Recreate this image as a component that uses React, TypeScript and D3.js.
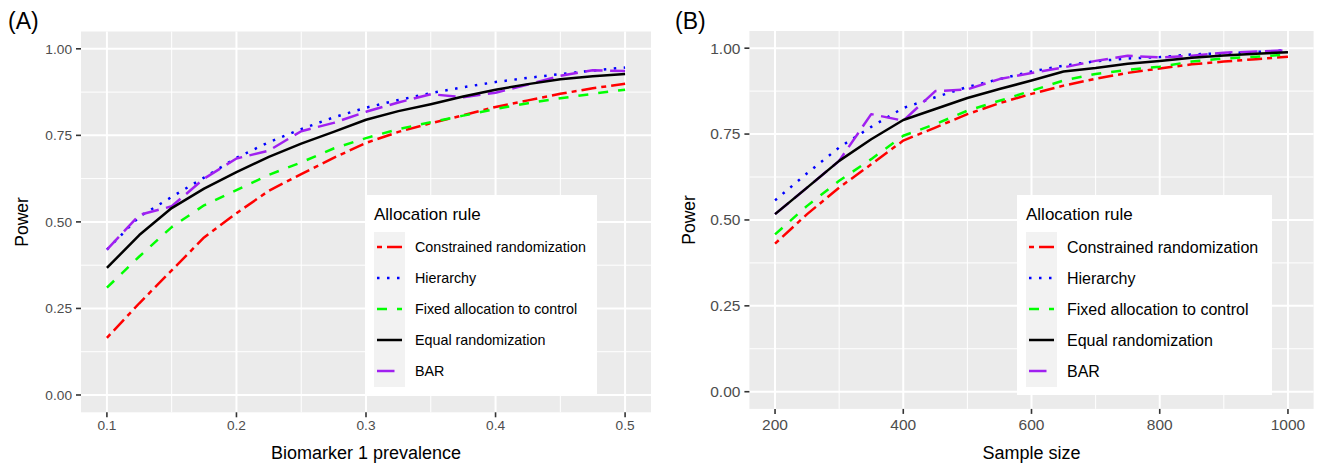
import React from "react";
import * as d3 from "d3";

// allocation rules, in legend order
const rules = [
  "Constrained randomization",
  "Hierarchy",
  "Fixed allocation to control",
  "Equal randomization",
  "BAR",
];
const ruleColors = ["#FF0000", "#0000FF", "#00FF00", "#000000", "#A020F0"];
// R linetypes twodash, dotted, dashed, solid, longdash at lwd ~2.5
const ruleDashes = ["5,5,15,5", "2.5,7.5", "10,10", null, "17.5,7.5"];
// order the lines are drawn in (index into rules)
const drawOrder = [0, 1, 2, 4, 3];

// (A) power by biomarker 1 prevalence
const prevalence = [0.1, 0.125, 0.15, 0.175, 0.2, 0.225, 0.25, 0.275, 0.3, 0.325, 0.35, 0.375, 0.4, 0.425, 0.45, 0.475, 0.5];
const prevConstrained = [0.165, 0.265, 0.36, 0.455, 0.525, 0.59, 0.638, 0.685, 0.728, 0.76, 0.785, 0.808, 0.832, 0.851, 0.87, 0.886, 0.899];
const prevHierarchy = [0.42, 0.515, 0.572, 0.628, 0.685, 0.73, 0.768, 0.802, 0.83, 0.852, 0.872, 0.889, 0.904, 0.916, 0.927, 0.937, 0.946];
const prevFixed = [0.31, 0.4, 0.485, 0.548, 0.592, 0.636, 0.672, 0.712, 0.742, 0.768, 0.788, 0.807, 0.826, 0.843, 0.857, 0.87, 0.882];
const prevEqual = [0.367, 0.462, 0.54, 0.596, 0.644, 0.688, 0.726, 0.76, 0.795, 0.82, 0.84, 0.862, 0.882, 0.898, 0.912, 0.921, 0.927];
const prevBAR = [0.42, 0.52, 0.545, 0.625, 0.683, 0.706, 0.762, 0.786, 0.818, 0.845, 0.869, 0.86, 0.873, 0.897, 0.922, 0.938, 0.936];

// (B) power by sample size
const sampleSize = [200, 250, 300, 350, 400, 450, 500, 550, 600, 650, 700, 750, 800, 850, 900, 950, 1000];
const sizeConstrained = [0.431, 0.517, 0.594, 0.662, 0.731, 0.769, 0.808, 0.84, 0.867, 0.891, 0.911, 0.928, 0.941, 0.953, 0.961, 0.968, 0.975];
const sizeHierarchy = [0.557, 0.636, 0.711, 0.771, 0.826, 0.857, 0.887, 0.91, 0.932, 0.949, 0.962, 0.97, 0.974, 0.982, 0.985, 0.989, 0.994];
const sizeFixed = [0.458, 0.541, 0.614, 0.677, 0.745, 0.779, 0.818, 0.847, 0.876, 0.906, 0.925, 0.937, 0.946, 0.961, 0.97, 0.975, 0.982];
const sizeEqual = [0.517, 0.594, 0.672, 0.735, 0.791, 0.823, 0.855, 0.881, 0.906, 0.932, 0.942, 0.955, 0.963, 0.972, 0.979, 0.984, 0.988];
const sizeBAR = [0.517, 0.594, 0.672, 0.808, 0.789, 0.875, 0.88, 0.91, 0.928, 0.944, 0.963, 0.978, 0.973, 0.978, 0.987, 0.99, 0.994];

const powerTicks = [0, 0.25, 0.5, 0.75, 1];
const powerMinor = [0.125, 0.375, 0.625, 0.875];
const prevTicks = [0.1, 0.2, 0.3, 0.4, 0.5];
const prevMinor = [0.15, 0.25, 0.35, 0.45];
const sizeTicks = [200, 400, 600, 800, 1000];
const sizeMinor = [300, 500, 700, 900];

const FONT = "'Liberation Sans', Arial, Helvetica, sans-serif";

type PanelProps = {
  tag: string;
  tagX: number;
  xTitle: string;
  xs: number[];
  series: number[][];
  xDomain: [number, number];
  xTicks: number[];
  xMinor: number[];
  left: number;
  right: number;
  top: number;
  bottom: number;
  tickFont: number;
  tickGap: number;
  legendX: number;
  legendW: number;
  legendFont: number;
  yTitleX: number;
};

function Panel(p: PanelProps) {
  const x = d3.scaleLinear().domain(p.xDomain).range([p.left, p.right]);
  const y = d3.scaleLinear().domain([-0.05, 1.05]).range([p.bottom, p.top]);
  const line = d3
    .line<number>()
    .x((_, i) => x(p.xs[i]))
    .y((d) => y(d));
  const yFmt = d3.format(".2f");
  const midX = (p.left + p.right) / 2;
  const midY = (p.top + p.bottom) / 2;

  const lx = p.legendX;
  const ly = 195;

  return (
    <g>
      <text x={p.tagX} y={29} fontSize={23} fontFamily={FONT} fill="#000">
        {p.tag}
      </text>
      <rect x={p.left} y={p.top} width={p.right - p.left} height={p.bottom - p.top} fill="#EBEBEB" />
      {powerMinor.map((v) => (
        <line key={"ym" + v} x1={p.left} x2={p.right} y1={y(v)} y2={y(v)} stroke="#fff" strokeWidth={1} />
      ))}
      {p.xMinor.map((v) => (
        <line key={"xm" + v} y1={p.top} y2={p.bottom} x1={x(v)} x2={x(v)} stroke="#fff" strokeWidth={1} />
      ))}
      {powerTicks.map((v) => (
        <line key={"yM" + v} x1={p.left} x2={p.right} y1={y(v)} y2={y(v)} stroke="#fff" strokeWidth={2} />
      ))}
      {p.xTicks.map((v) => (
        <line key={"xM" + v} y1={p.top} y2={p.bottom} x1={x(v)} x2={x(v)} stroke="#fff" strokeWidth={2} />
      ))}

      {drawOrder.map((k) => (
        <path
          key={"s" + k}
          d={line(p.series[k]) || ""}
          fill="none"
          stroke={ruleColors[k]}
          strokeWidth={2.5}
          strokeDasharray={ruleDashes[k] || undefined}
          strokeLinejoin="round"
        />
      ))}

      {/* axes */}
      {powerTicks.map((v) => (
        <g key={"yt" + v}>
          <line x1={p.left - 5} x2={p.left} y1={y(v)} y2={y(v)} stroke="#333" strokeWidth={1.6} />
          <text
            x={p.left - 9}
            y={y(v)}
            dy="0.35em"
            textAnchor="end"
            fontSize={p.tickFont}
            fontFamily={FONT}
            fill="#4D4D4D"
          >
            {yFmt(v)}
          </text>
        </g>
      ))}
      {p.xTicks.map((v) => (
        <g key={"xt" + v}>
          <line x1={x(v)} x2={x(v)} y1={p.bottom} y2={p.bottom + 5} stroke="#333" strokeWidth={1.6} />
          <text
            x={x(v)}
            y={p.bottom + p.tickGap}
            dy="0.35em"
            textAnchor="middle"
            fontSize={p.tickFont}
            fontFamily={FONT}
            fill="#4D4D4D"
          >
            {String(v)}
          </text>
        </g>
      ))}
      <text x={midX} y={459} textAnchor="middle" fontSize={18} fontFamily={FONT} fill="#000">
        {p.xTitle}
      </text>
      <text
        transform={`translate(${p.yTitleX},${midY}) rotate(-90)`}
        textAnchor="middle"
        dy="0.35em"
        fontSize={17.5}
        fontFamily={FONT}
        fill="#000"
      >
        Power
      </text>

      {/* legend */}
      <rect x={lx} y={ly} width={p.legendW} height={200} fill="#fff" />
      <text x={lx + 9} y={ly + 25} fontSize={17} fontFamily={FONT} fill="#000">
        Allocation rule
      </text>
      <rect x={lx + 9} y={ly + 37} width={31} height={155} fill="#F2F2F2" />
      {rules.map((r, i) => {
        const cy = ly + 52 + i * 31;
        return (
          <g key={"lg" + i}>
            <line
              x1={lx + 12}
              x2={lx + 37}
              y1={cy}
              y2={cy}
              stroke={ruleColors[i]}
              strokeWidth={2.5}
              strokeDasharray={ruleDashes[i] || undefined}
            />
            <text x={lx + 50} y={cy} dy="0.35em" fontSize={p.legendFont} fontFamily={FONT} fill="#000">
              {r}
            </text>
          </g>
        );
      })}
    </g>
  );
}

export default function App() {
  return (
    <svg
      width={1326}
      height={467}
      style={{ position: "absolute", left: 0, top: 0, background: "#fff" }}
    >
      <Panel
        tag="(A)"
        tagX={8}
        xTitle="Biomarker 1 prevalence"
        xs={prevalence}
        series={[prevConstrained, prevHierarchy, prevFixed, prevEqual, prevBAR]}
        xDomain={[0.08, 0.52]}
        xTicks={prevTicks}
        xMinor={prevMinor}
        left={81}
        right={651}
        top={31.5}
        bottom={412.3}
        tickFont={13.7}
        tickGap={13}
        legendX={365}
        legendW={232}
        legendFont={14.3}
        yTitleX={22}
      />
      <Panel
        tag="(B)"
        tagX={675}
        xTitle="Sample size"
        xs={sampleSize}
        series={[sizeConstrained, sizeHierarchy, sizeFixed, sizeEqual, sizeBAR]}
        xDomain={[160, 1040]}
        xTicks={sizeTicks}
        xMinor={sizeMinor}
        left={749.4}
        right={1313.6}
        top={31}
        bottom={408.9}
        tickFont={15.5}
        tickGap={16}
        legendX={1017}
        legendW={255}
        legendFont={16}
        yTitleX={689}
      />
    </svg>
  );
}
